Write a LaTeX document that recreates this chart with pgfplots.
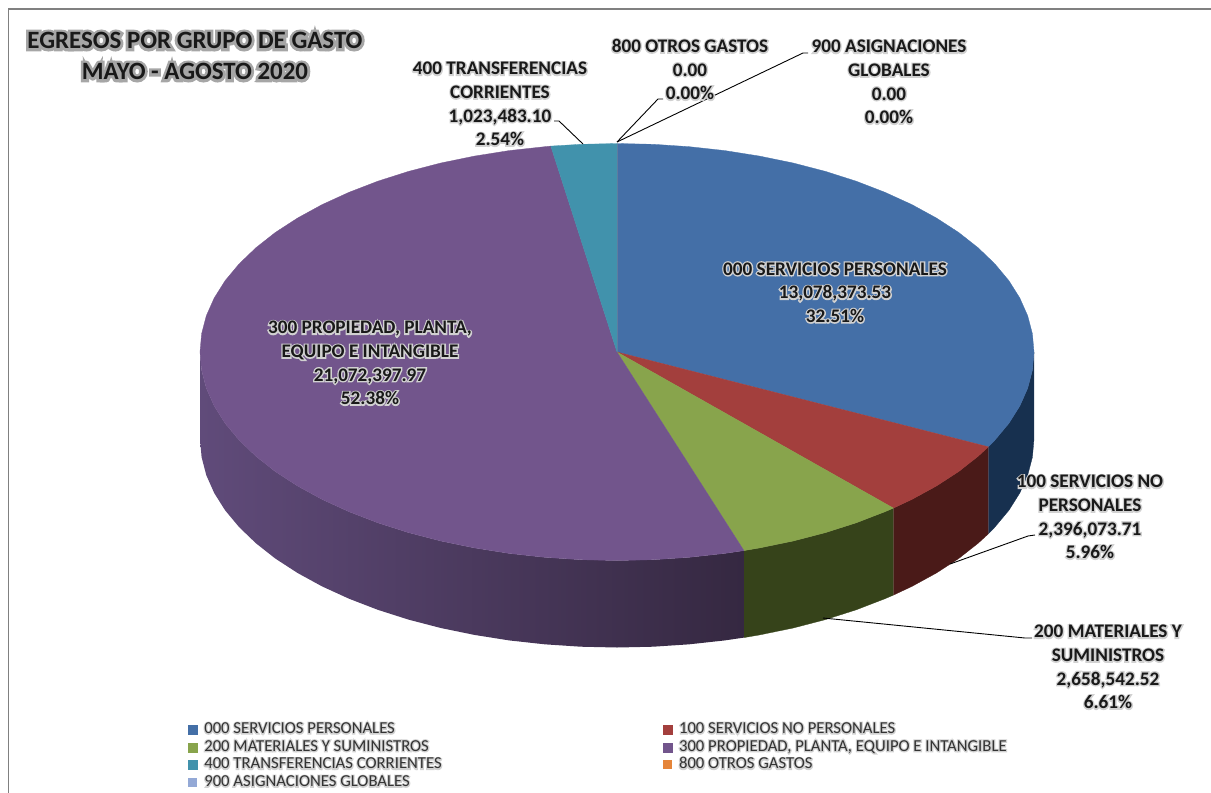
\documentclass[border=0pt]{standalone}
\usepackage{pgfplots}
\pgfplotsset{compat=1.18}
\usepackage{fontspec}
\setmainfont{Carlito}
\newfontfamily\glowB[FakeBold=14]{Carlito Bold}
\newfontfamily\glowT[FakeBold=22]{Carlito Bold}
\newfontfamily\glowR[FakeBold=14]{Carlito}
\definecolor{cBlue}{HTML}{446FA7}
\definecolor{cRed}{HTML}{A33F3D}
\definecolor{cGreen}{HTML}{88A44C}
\definecolor{cPurple}{HTML}{72558C}
\definecolor{cTeal}{HTML}{4192AC}
\definecolor{cOrange}{HTML}{E5853A}
\definecolor{cSky}{HTML}{94A9D6}
\definecolor{sBlue}{HTML}{17304F}
\definecolor{sRed}{HTML}{4A1A18}
\definecolor{sGreen}{HTML}{36431A}
\definecolor{sPurpleL}{HTML}{604B7A}
\definecolor{sPurpleR}{HTML}{352841}
\newcommand\gl[1]{\leavevmode\rlap{\color{black!18}\glowB #1}#1}
\newcommand\gt[1]{\leavevmode\rlap{\color{black!35}\glowT #1}#1}
\newcommand\gk[1]{\leavevmode\rlap{\color{black!18}\glowR #1}#1}
\begin{document}
\begin{tikzpicture}
\begin{axis}[
  scale only axis, width=1211pt, height=793pt,
  xmin=0, xmax=1211, ymin=0, ymax=793, y dir=reverse,
  axis lines=none, clip=false,
  legend columns=2, legend cell align=left,
  legend image code/.code={\path[#1] (0pt,-4.5pt) rectangle (9pt,4.5pt);},
  legend style={at={(axis cs:188,722.5)}, anchor=north west, draw=none, fill=none,
    inner sep=0pt, outer sep=0pt, row sep=3.7pt,
    font=\fontsize{16.7}{18}\selectfont,
    text=black!80,
    nodes={inner sep=0pt, outer sep=0pt, text height=11pt, text depth=3pt},
    /tikz/column 1/.style={column sep=7pt},
    /tikz/column 2/.style={column sep=221pt},
    /tikz/column 3/.style={column sep=7pt}},
]
% frame
\addplot[forget plot, no markers, color=black!50, line width=1.4pt] coordinates {(8.5,793)(8.5,9)(1211,9)};

% side walls (top edge of the rim, then bottom edge 87 lower)
\addplot[forget plot, no markers, fill=sBlue, draw=sBlue, line width=.3pt] coordinates {
(1034,352)(1032.4,370.2)(1027.7,388.2)(1019.8,406)(1008.9,423.3)(994.9,440.1)(988.4,446.8)
(988.4,533.8)(994.9,527.1)(1008.9,510.3)(1019.8,493)(1027.7,475.2)(1032.4,457.2)(1034,439)};
\addplot[forget plot, no markers, fill=sRed, draw=sRed, line width=.3pt] coordinates {
(988.4,446.8)(978.1,456.25)(958.6,471.6)(936.4,486)(911.9,499.4)(893.4,508.1)
(893.4,595.1)(911.9,586.4)(936.4,573)(958.6,558.6)(978.1,543.25)(988.4,533.8)};
\addplot[forget plot, no markers, fill=sGreen, draw=sGreen, line width=.3pt] coordinates {
(893.4,508.1)(885,511.7)(856.2,522.8)(825.5,532.6)(793.2,541)(759.6,547.9)(743.9,550.6)
(743.9,637.6)(759.6,634.9)(793.2,628)(825.5,619.6)(856.2,609.8)(885,598.7)(893.4,595.1)};
\addplot[forget plot, no markers, draw=none, left color=sPurpleL, right color=sPurpleR] coordinates {
(743.9,550.6)(724.9,553.4)(689.4,557.3)(653.3,559.7)(617,560.5)(580.7,559.7)(544.6,557.3)(509.1,553.4)
(474.4,547.9)(440.8,541)(408.5,532.6)(377.8,522.8)(349,511.7)(322.1,499.4)(297.6,486)(275.4,471.6)
(255.9,456.25)(239.1,440.1)(225.1,423.3)(214.2,406)(206.3,388.2)(201.6,370.2)(200,352)
(200,439)(201.6,457.2)(206.3,475.2)(214.2,493)(225.1,510.3)(239.1,527.1)(255.9,543.25)(275.4,558.6)
(297.6,573)(322.1,586.4)(349,598.7)(377.8,609.8)(408.5,619.6)(440.8,628)(474.4,634.9)(509.1,640.4)
(544.6,644.3)(580.7,646.7)(617,647.5)(653.3,646.7)(689.4,644.3)(724.9,640.4)(743.9,637.6)};

% top faces: 32.51, 5.96, 6.61, 52.38, 2.54, 0.00, 0.00 per cent, clockwise from the top
\addplot[no markers, fill=cBlue, draw=cBlue, line width=.3pt] coordinates {
(617,352)(617,143.5)(653.3,144.3)(689.4,146.7)(724.9,150.6)(759.6,156.1)(793.2,163)(825.5,171.4)(856.2,181.2)
(885,192.3)(911.9,204.6)(936.4,218)(958.6,232.4)(978.1,247.75)(994.9,263.9)(1008.9,280.7)(1019.8,298)
(1027.7,315.8)(1032.4,333.8)(1034,352)(1032.4,370.2)(1027.7,388.2)(1019.8,406)(1008.9,423.3)(994.9,440.1)(988.4,446.8)(617,352)};
\addlegendentry{\gk{000 SERVICIOS PERSONALES}}
\addplot[no markers, fill=cRed, draw=cRed, line width=.3pt] coordinates {
(617,352)(988.4,446.8)(978.1,456.25)(958.6,471.6)(936.4,486)(911.9,499.4)(893.4,508.1)(617,352)};
\addlegendentry{\gk{100 SERVICIOS NO PERSONALES}}
\addplot[no markers, fill=cGreen, draw=cGreen, line width=.3pt] coordinates {
(617,352)(893.4,508.1)(885,511.7)(856.2,522.8)(825.5,532.6)(793.2,541)(759.6,547.9)(743.9,550.6)(617,352)};
\addlegendentry{\gk{200 MATERIALES Y SUMINISTROS}}
\addplot[no markers, fill=cPurple, draw=cPurple, line width=.3pt] coordinates {
(617,352)(743.9,550.6)(724.9,553.4)(689.4,557.3)(653.3,559.7)(617,560.5)(580.7,559.7)(544.6,557.3)(509.1,553.4)
(474.4,547.9)(440.8,541)(408.5,532.6)(377.8,522.8)(349,511.7)(322.1,499.4)(297.6,486)(275.4,471.6)
(255.9,456.25)(239.1,440.1)(225.1,423.3)(214.2,406)(206.3,388.2)(201.6,370.2)(200,352)
(201.6,333.8)(206.3,315.8)(214.2,298)(225.1,280.7)(239.1,263.9)(255.9,247.75)(275.4,232.4)(297.6,218)
(322.1,204.6)(349,192.3)(377.8,181.2)(408.5,171.4)(440.8,163)(474.4,156.1)(509.1,150.6)(544.6,146.7)(550.8,146.1)(617,352)};
\addlegendentry{\gk{300 PROPIEDAD, PLANTA, EQUIPO E INTANGIBLE}}
\addplot[no markers, fill=cTeal, draw=cTeal, line width=.3pt] coordinates {
(617,352)(550.8,146.1)(580.7,144.3)(617,143.5)(617,352)};
\addlegendentry{\gk{400 TRANSFERENCIAS CORRIENTES}}
\addplot[no markers, fill=cOrange, draw=none] coordinates {(617,352)(617,143.5)};
\addlegendentry{\gk{800 OTROS GASTOS}}
\addplot[no markers, fill=cSky, draw=none] coordinates {(617,352)(617,143.5)};
\addlegendentry{\gk{900 ASIGNACIONES GLOBALES}}

% leader lines
\addplot[forget plot, no markers, black, line width=.9pt] coordinates {(554,121)(559,121)(583,144)};
\addplot[forget plot, no markers, black, line width=.9pt] coordinates {(663,99)(658,99)(617,142)};
\addplot[forget plot, no markers, black, line width=.9pt] coordinates {(808,53)(803,53)(617,142)};
\addplot[forget plot, no markers, black, line width=.9pt] coordinates {(1035,535)(1028,536)(950,564)};
\addplot[forget plot, no markers, black, line width=.9pt] coordinates {(1032,638)(1025,638)(823,618)};

% labels
\tikzset{lab/.style={align=center, inner sep=0pt, font=\fontsize{19.2}{23.6}\selectfont\bfseries, text=black!90}}
\node[lab, font=\fontsize{24.9}{31}\selectfont\bfseries] at (axis cs:195,56) {\gt{EGRESOS POR GRUPO DE GASTO}\\\gt{MAYO - AGOSTO 2020}};
\node[lab] at (axis cs:500,104) {\gl{400 TRANSFERENCIAS}\\\gl{CORRIENTES}\\\gl{1,023,483.10}\\\gl{2.54\%}};
\node[lab] at (axis cs:690,69.5) {\gl{800 OTROS GASTOS}\\\gl{0.00}\\\gl{0.00\%}};
\node[lab] at (axis cs:889,82) {\gl{900 ASIGNACIONES}\\\gl{GLOBALES}\\\gl{0.00}\\\gl{0.00\%}};
\node[lab] at (axis cs:835,292.5) {\gl{000 SERVICIOS PERSONALES}\\\gl{13,078,373.53}\\\gl{32.51\%}};
\node[lab] at (axis cs:370,363) {\gl{300 PROPIEDAD, PLANTA,}\\\gl{EQUIPO E INTANGIBLE}\\\gl{21,072,397.97}\\\gl{52.38\%}};
\node[lab] at (axis cs:1090,517) {\gl{100 SERVICIOS NO}\\\gl{PERSONALES}\\\gl{2,396,073.71}\\\gl{5.96\%}};
\node[lab] at (axis cs:1108,667) {\gl{200 MATERIALES Y}\\\gl{SUMINISTROS}\\\gl{2,658,542.52}\\\gl{6.61\%}};
\end{axis}
\pgfresetboundingbox
\path[use as bounding box] (0,0) rectangle (1211pt,793pt);
\end{tikzpicture}
\end{document}
